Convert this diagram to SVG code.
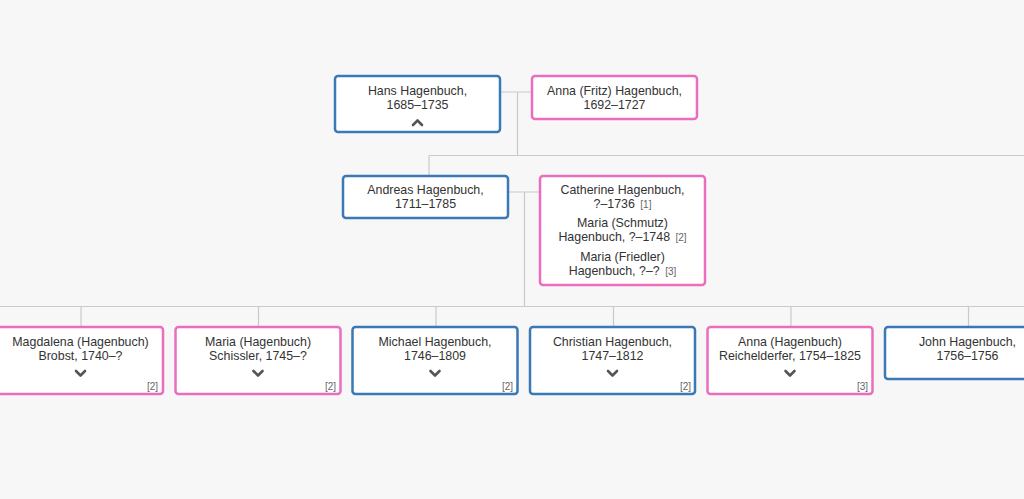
<svg xmlns="http://www.w3.org/2000/svg" width="1024" height="499" viewBox="0 0 1024 499">
<style>
.bg{fill:#f7f7f7}
.m{fill:#fff;stroke:#3a78b6;stroke-width:2.5}
.f{fill:#fff;stroke:#ea6dbf;stroke-width:2.5}
.t{font-family:"Liberation Sans",Arial,sans-serif;font-size:12.4px;fill:#333;text-anchor:middle}
.n{font-family:"Liberation Sans",Arial,sans-serif;font-size:10px;fill:#666}
.c{fill:none;stroke:#555;stroke-width:2.6;stroke-linecap:round;stroke-linejoin:round}
.l{fill:none;stroke:#cacaca;stroke-width:1.2}
</style>
<defs>
<path id="down" class="c" d="M-4.5,-2 L0,2.5 L4.5,-2"/>
<path id="up" class="c" d="M-4.5,2 L0,-2.5 L4.5,2"/>
</defs>
<rect class="bg" x="0" y="0" width="1024" height="499"/>
<g id="connectors">
<path class="l" d="M501,92 H532 M517.5,92 V155.5 M429,155.5 H1024 M429,155.5 V175"/>
<path class="l" d="M508,192 H539 M524.5,192 V306.5 M0,306.5 H1024"/>
<path class="l" d="M81,306.5 V327 M258.5,306.5 V327 M436,306.5 V327 M613.5,306.5 V327 M791,306.5 V327 M968.5,306.5 V327"/>
</g>
<g id="hans">
<rect class="m" x="335" y="76" width="165" height="56" rx="3"/>
<text class="t" x="417.5" y="95">Hans Hagenbuch,</text>
<text class="t" x="417.5" y="108.5">1685–1735</text>
<use href="#up" x="417.5" y="123"/>
</g>
<g id="anna-fritz">
<rect class="f" x="532" y="76" width="165" height="43" rx="3"/>
<text class="t" x="614.5" y="95">Anna (Fritz) Hagenbuch,</text>
<text class="t" x="614.5" y="108.5">1692–1727</text>
</g>
<g id="andreas">
<rect class="m" x="343" y="176" width="165" height="42" rx="3"/>
<text class="t" x="425.5" y="194">Andreas Hagenbuch,</text>
<text class="t" x="425.5" y="207.5">1711–1785</text>
</g>
<g id="spouses">
<rect class="f" x="540" y="176" width="165" height="109" rx="3"/>
<text class="t" x="622.5" y="194">Catherine Hagenbuch,</text>
<text class="t" x="622.5" y="207.5">?–1736 <tspan dx="2" font-size="10" fill="#666">[1]</tspan></text>
<text class="t" x="622.5" y="227">Maria (Schmutz)</text>
<text class="t" x="622.5" y="241">Hagenbuch, ?–1748 <tspan dx="2" font-size="10" fill="#666">[2]</tspan></text>
<text class="t" x="622.5" y="261">Maria (Friedler)</text>
<text class="t" x="622.5" y="275">Hagenbuch, ?–? <tspan dx="2" font-size="10" fill="#666">[3]</tspan></text>
</g>
<g id="magdalena">
<rect class="f" x="-2" y="327" width="165" height="67" rx="3"/>
<text class="t" x="80.5" y="346">Magdalena (Hagenbuch)</text>
<text class="t" x="80.5" y="360">Brobst, 1740–?</text>
<use href="#down" x="80.5" y="373"/>
<text class="n" x="158" y="390" text-anchor="end">[2]</text>
</g>
<g id="maria">
<rect class="f" x="175.5" y="327" width="165" height="67" rx="3"/>
<text class="t" x="258" y="346">Maria (Hagenbuch)</text>
<text class="t" x="258" y="360">Schissler, 1745–?</text>
<use href="#down" x="258" y="373"/>
<text class="n" x="336" y="390" text-anchor="end">[2]</text>
</g>
<g id="michael">
<rect class="m" x="352.5" y="327" width="165" height="67" rx="3"/>
<text class="t" x="435" y="346">Michael Hagenbuch,</text>
<text class="t" x="435" y="360">1746–1809</text>
<use href="#down" x="435" y="373"/>
<text class="n" x="513" y="390" text-anchor="end">[2]</text>
</g>
<g id="christian">
<rect class="m" x="530" y="327" width="165" height="67" rx="3"/>
<text class="t" x="612.5" y="346">Christian Hagenbuch,</text>
<text class="t" x="612.5" y="360">1747–1812</text>
<use href="#down" x="612.5" y="373"/>
<text class="n" x="691" y="390" text-anchor="end">[2]</text>
</g>
<g id="anna-hagenbuch">
<rect class="f" x="707.5" y="327" width="165" height="67" rx="3"/>
<text class="t" x="790" y="346">Anna (Hagenbuch)</text>
<text class="t" x="790" y="360">Reichelderfer, 1754–1825</text>
<use href="#down" x="790" y="373"/>
<text class="n" x="868" y="390" text-anchor="end">[3]</text>
</g>
<g id="john">
<rect class="m" x="885" y="327" width="165" height="52" rx="3"/>
<text class="t" x="967.5" y="346">John Hagenbuch,</text>
<text class="t" x="967.5" y="360">1756–1756</text>
</g>
</svg>
